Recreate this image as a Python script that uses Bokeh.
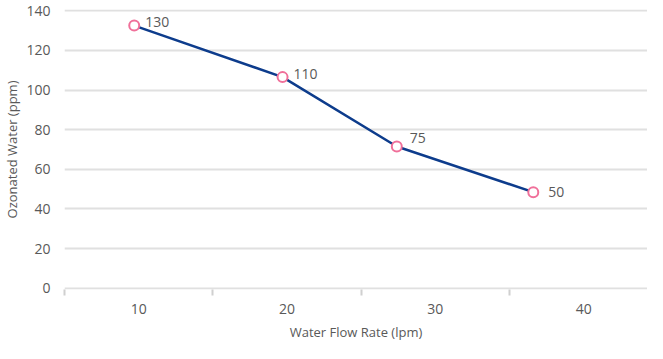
from bokeh.plotting import figure
from bokeh.models import ColumnDataSource, Range1d, FixedTicker
from bokeh.core.properties import value
from bokeh.embed import file_html
from bokeh.resources import INLINE

# data
flow_rate = [9.7, 19.7, 27.4, 36.6]
ozone_ppm = [132.5, 106.5, 71.5, 48.5]
point_labels = ["130", "110", "75", "50"]
x_tick_values = [10, 20, 30, 40]
x_band_edges = [5, 15, 25, 35]
y_tick_values = [0, 20, 40, 60, 80, 100, 120, 140]

# label placement (screen px), kept apart from data
label_dx = [11, 11, 13, 15]
label_dy = [-4, -3, -9, 0]

FONT = "Open Sans"
TXT = "#595959"

src = ColumnDataSource(dict(x=flow_rate, y=ozone_ppm, lab=point_labels,
                            dx=label_dx, dy=label_dy))

p = figure(width=647, height=343, output_backend="svg", toolbar_location=None,
           x_range=Range1d(5, 44.3), y_range=Range1d(-0.6, 140.6),
           min_border_left=58, min_border_right=0, min_border_top=9,
           min_border_bottom=50)
p.outline_line_color = None
p.background_fill_color = "white"
p.border_fill_color = "white"

p.xgrid.grid_line_color = None
p.ygrid.grid_line_color = "#e0e0e0"
p.ygrid.grid_line_width = 2

p.yaxis.ticker = FixedTicker(ticks=y_tick_values)
p.yaxis.axis_line_color = None
p.yaxis.major_tick_line_color = None
p.yaxis.minor_tick_line_color = None
p.yaxis.major_label_text_font = FONT
p.yaxis.major_label_text_font_size = "14px"
p.yaxis.major_label_text_color = TXT
p.yaxis.major_label_standoff = 8
p.yaxis.axis_label = "Ozonated Water (ppm)"
p.yaxis.axis_label_text_font = FONT
p.yaxis.axis_label_text_font_size = "13px"
p.yaxis.axis_label_text_font_style = "normal"
p.yaxis.axis_label_text_color = TXT
p.yaxis.axis_label_standoff = 2

p.xaxis.ticker = FixedTicker(ticks=x_tick_values, minor_ticks=x_band_edges)
p.xaxis.axis_line_color = None
p.xaxis.major_tick_line_color = None
p.xaxis.minor_tick_line_color = "#d0d0d0"
p.xaxis.minor_tick_line_width = 2
p.xaxis.minor_tick_out = 6
p.xaxis.minor_tick_in = 0
p.xaxis.major_label_text_font = FONT
p.xaxis.major_label_text_font_size = "14px"
p.xaxis.major_label_text_color = TXT
p.xaxis.major_label_standoff = 8
p.xaxis.axis_label = "Water Flow Rate (lpm)"
p.xaxis.axis_label_text_font = FONT
p.xaxis.axis_label_text_font_size = "13px"
p.xaxis.axis_label_text_font_style = "normal"
p.xaxis.axis_label_text_color = TXT
p.xaxis.axis_label_standoff = 6

p.line("x", "y", source=src, line_color="#0d3c8c", line_width=2.5)
p.scatter("x", "y", source=src, size=10, marker="circle", fill_color="white",
          line_color="#f0709a", line_width=2)
p.text("x", "y", text="lab", source=src, x_offset="dx", y_offset="dy",
       text_font=value(FONT), text_font_size="14px", text_color=TXT,
       text_align="left", text_baseline="middle")

open("out.html", "w").write(file_html(p, INLINE))
